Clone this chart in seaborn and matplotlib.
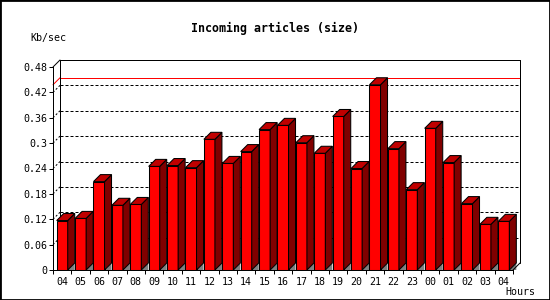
import numpy as np
import matplotlib
matplotlib.use("Agg")
import matplotlib.pyplot as plt
from matplotlib.patches import Polygon, Rectangle
import seaborn as sns

# ---- data ----
hours = ["04", "05", "06", "07", "08", "09", "10", "11", "12", "13", "14", "15", "16",
         "17", "18", "19", "20", "21", "22", "23", "00", "01", "02", "03", "04"]
values = [0.117, 0.122, 0.209, 0.153, 0.155, 0.245, 0.247, 0.242, 0.309, 0.252, 0.280,
          0.332, 0.342, 0.301, 0.276, 0.363, 0.240, 0.438, 0.287, 0.190, 0.335, 0.254,
          0.157, 0.108, 0.115]
yticks = [0, 0.06, 0.12, 0.18, 0.24, 0.30, 0.36, 0.42, 0.48]
ytick_labels = ["0", "0.06", "0.12", "0.18", "0.24", "0.3", "0.36", "0.42", "0.48"]
title = "Incoming articles (size)"
ylabel = "Kb/sec"
xlabel = "Hours"

sns.set_theme(style="white")
plt.rcParams["font.family"] = ["DejaVu Sans Mono", "DejaVu Sans"]

DPI = 100
fig = plt.figure(figsize=(5.5, 3.0), dpi=DPI)
fig.patch.set_facecolor("white")
ax = fig.add_axes([53 / 550, 30 / 300, 460 / 550, 203 / 300])
ax.set_facecolor("none")

idx = list(range(len(values)))
sns.barplot(x=idx, y=values, ax=ax, width=0.6, color="#ff0000", saturation=1,
            edgecolor="black", linewidth=0.75, zorder=5)

ymax = 0.48
ax.set_xlim(-0.5, len(values) - 0.5)
ax.set_ylim(0, ymax)

# depth offset (pixels -> data units)
fig.canvas.draw()
bbox = ax.get_window_extent()
x0l, x1l = ax.get_xlim()
DPX = 7.0
ddx = DPX * (x1l - x0l) / bbox.width
ddy = DPX * ymax / bbox.height

lw = 0.72
xl, xr = x0l, x1l

# back wall gridlines (dotted)
for t in yticks[1:-1]:
    ax.plot([xl + ddx, xr + ddx], [t + ddy, t + ddy], color="black", lw=lw,
            linestyle=(0, (3, 2)), zorder=1, clip_on=False)
    ax.plot([xl, xl + ddx], [t, t + ddy], color="black", lw=lw,
            linestyle=(0, (2, 2)), zorder=1, clip_on=False)

# max line (red)
vmax = max(values)
ax.plot([xl + ddx, xr + ddx], [vmax + ddy, vmax + ddy], color="#ff0000", lw=lw,
        zorder=1.5, clip_on=False)
ax.plot([xl, xl + ddx], [vmax, vmax + ddy], color="#ff0000", lw=lw, zorder=1.5,
        clip_on=False)

# wall frame
frame_kw = dict(color="black", lw=lw, zorder=2, clip_on=False)
ax.plot([xl + ddx, xr + ddx], [ymax + ddy, ymax + ddy], **frame_kw)
ax.plot([xl + ddx, xl + ddx], [ddy, ymax + ddy], **frame_kw)
ax.plot([xr + ddx, xr + ddx], [ddy, ymax + ddy], **frame_kw)
ax.plot([xl, xl + ddx], [ymax, ymax + ddy], **frame_kw)
ax.plot([xr, xr + ddx], [0, ddy], color="black", lw=lw, zorder=8, clip_on=False)

# 3D faces for bars
for p in list(ax.patches):
    bx, bw, bh = p.get_x(), p.get_width(), p.get_height()
    floor = Polygon([(bx + bw, 0), (bx + bw + ddx, ddy), (bx + bw + ddx, 0)],
                    closed=True, facecolor="#808080", edgecolor="none",
                    zorder=4, clip_on=False)
    side = Polygon([(bx + bw, 0), (bx + bw, bh), (bx + bw + ddx, bh + ddy),
                    (bx + bw + ddx, ddy)], closed=True, facecolor="#800000",
                   edgecolor="black", lw=0.75, zorder=5, clip_on=False)
    top = Polygon([(bx, bh), (bx + bw, bh), (bx + bw + ddx, bh + ddy),
                   (bx + ddx, bh + ddy)], closed=True, facecolor="#c00000",
                  edgecolor="black", lw=0.75, zorder=5, clip_on=False)
    ax.add_patch(floor)
    ax.add_patch(side)
    ax.add_patch(top)

# spines
for s in ["top", "right"]:
    ax.spines[s].set_visible(False)
for s in ["left", "bottom"]:
    ax.spines[s].set_visible(True)
    ax.spines[s].set_color("black")
    ax.spines[s].set_linewidth(lw)
    ax.spines[s].set_zorder(9)

ax.set_yticks(yticks)
ax.set_yticklabels(ytick_labels)
ax.set_xticks(idx)
ax.set_xticklabels(hours)
ax.set_xticks(np.arange(-0.5, len(values), 1.0), minor=True)
ax.tick_params(axis="y", which="major", direction="out", length=2.9, width=lw,
               color="black", pad=1, labelsize=7.2, labelcolor="black", left=True)
ax.tick_params(axis="x", which="major", length=0, pad=5, labelsize=7.2,
               labelcolor="black", bottom=True)
ax.tick_params(axis="x", which="minor", direction="out", length=2.9, width=lw,
               color="black", bottom=True)
ax.set_xlabel("")
ax.set_ylabel("")
ax.grid(False)

fig.text(275 / 550, 1 - 28 / 300, title, ha="center", va="center",
         fontsize=8.4, fontweight="bold", color="black")
fig.text(30 / 550, 1 - 38.5 / 300, ylabel, ha="left", va="center",
         fontsize=7.2, color="black")
fig.text(535 / 550, 1 - 292 / 300, xlabel, ha="right", va="center",
         fontsize=7.2, color="black")

fig.add_artist(Rectangle((0, 0), 1, 1, transform=fig.transFigure, fill=False,
                         lw=2, edgecolor="black", zorder=20))

fig.savefig("out.png", dpi=DPI, facecolor="white")
